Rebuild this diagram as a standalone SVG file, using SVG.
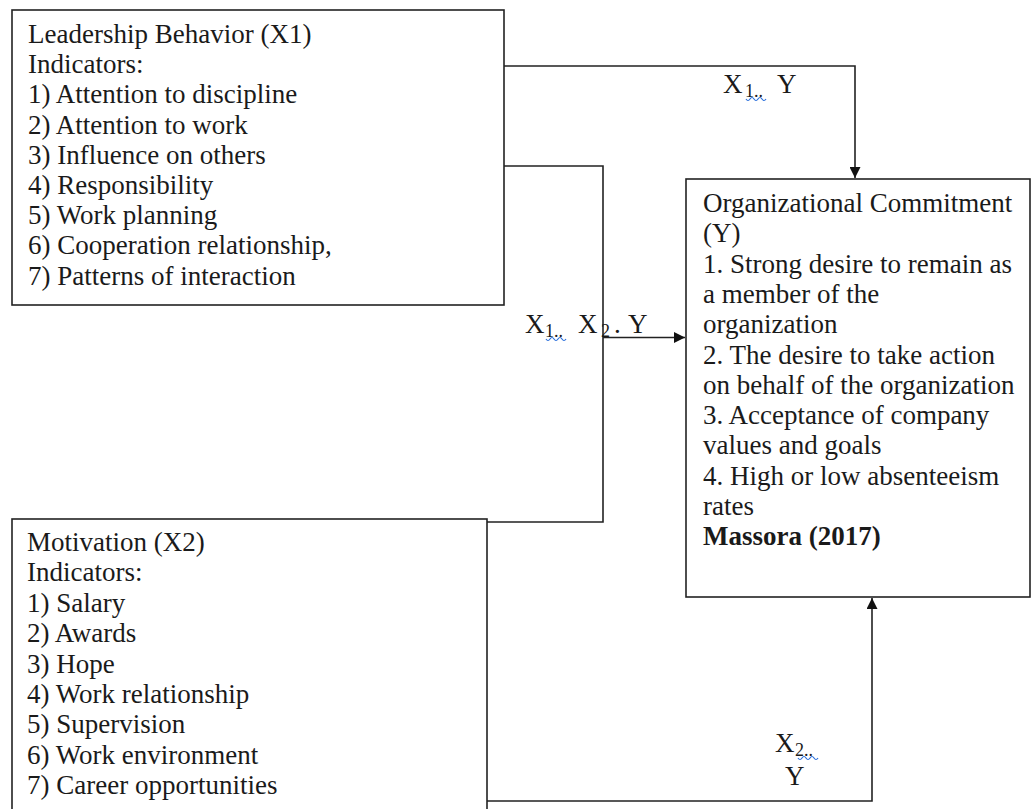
<svg xmlns="http://www.w3.org/2000/svg" width="1033" height="809" viewBox="0 0 1033 809">
<style>
.box{fill:#fff;stroke:#222;stroke-width:1.6}
.t{font-family:"Liberation Serif","Times New Roman",serif;font-size:27px;fill:#1a1a1a}
.sub{font-size:18px}
.b{font-weight:bold}
.ln{fill:none;stroke:#222;stroke-width:1.6}
.sq{fill:none;stroke:#2a6fdc;stroke-width:1.2}
</style>
<defs>
<marker id="ah" viewBox="0 0 10 10" refX="10" refY="5" markerWidth="12" markerHeight="11" markerUnits="userSpaceOnUse" orient="auto">
<path d="M0,0 L10,5 L0,10 z" fill="#111"/>
</marker>
</defs>
<rect width="1033" height="809" fill="#fff"/>
<g id="connectors">
<polyline class="ln" points="504,66 855,66 855,178" marker-end="url(#ah)"/>
<polyline class="ln" points="504,166 603,166 603,522 487,522"/>
<line class="ln" x1="603" y1="337.5" x2="685" y2="337.5" marker-end="url(#ah)"/>
<polyline class="ln" points="487,801 872,801 872,598" marker-end="url(#ah)"/>
</g>
<g id="node-x1">
<rect class="box" x="12" y="10" width="492" height="295"/>
<text class="t" x="28" y="43">Leadership Behavior (X1)</text>
<text class="t" x="28" y="73.2">Indicators:</text>
<text class="t" x="28" y="103.4">1) Attention to discipline</text>
<text class="t" x="28" y="133.6">2) Attention to work</text>
<text class="t" x="28" y="163.8">3) Influence on others</text>
<text class="t" x="28" y="194">4) Responsibility</text>
<text class="t" x="28" y="224.2">5) Work planning</text>
<text class="t" x="28" y="254.4">6) Cooperation relationship,</text>
<text class="t" x="28" y="284.6">7) Patterns of interaction</text>
</g>
<g id="node-x2">
<rect class="box" x="12" y="519" width="475" height="300"/>
<text class="t" x="27" y="551">Motivation (X2)</text>
<text class="t" x="27" y="581.4">Indicators:</text>
<text class="t" x="27" y="611.8">1) Salary</text>
<text class="t" x="27" y="642.2">2) Awards</text>
<text class="t" x="27" y="672.6">3) Hope</text>
<text class="t" x="27" y="703">4) Work relationship</text>
<text class="t" x="27" y="733.4">5) Supervision</text>
<text class="t" x="27" y="763.8">6) Work environment</text>
<text class="t" x="27" y="794.2">7) Career opportunities</text>
</g>
<g id="node-y">
<rect class="box" x="686" y="179" width="344" height="418"/>
<text class="t" x="703" y="212">Organizational Commitment</text>
<text class="t" x="703" y="242.3">(Y)</text>
<text class="t" x="703" y="272.6">1. Strong desire to remain as</text>
<text class="t" x="703" y="302.9">a member of the</text>
<text class="t" x="703" y="333.2">organization</text>
<text class="t" x="703" y="363.5">2. The desire to take action</text>
<text class="t" x="703" y="393.8">on behalf of the organization</text>
<text class="t" x="703" y="424.1">3. Acceptance of company</text>
<text class="t" x="703" y="454.4">values and goals</text>
<text class="t" x="703" y="484.7">4. High or low absenteeism</text>
<text class="t" x="703" y="515">rates</text>
<text class="t b" x="703" y="545.3">Massora (2017)</text>
</g>
<g id="labels">
<text class="t" x="723" y="93">X<tspan class="sub" x="745" y="97">1..</tspan><tspan x="777" y="93">Y</tspan></text>
<path class="sq" d="M746,99 q2,3 4,0 t4,0 t4,0 t4,0 t4,0"/>
<text class="t" x="525" y="333">X<tspan class="sub" x="545" y="337">1..</tspan><tspan x="578" y="333">X</tspan><tspan class="sub" x="601" y="337">2</tspan><tspan x="614" y="333">.</tspan><tspan x="628" y="333">Y</tspan></text>
<path class="sq" d="M546,339 q2,3 4,0 t4,0 t4,0 t4,0 t4,0"/>
<text class="t" x="775" y="752">X<tspan class="sub" x="795" y="756">2..</tspan></text>
<path class="sq" d="M798,758 q2,3 4,0 t4,0 t4,0 t4,0 t4,0"/>
<text class="t" x="785" y="785">Y</text>
</g>
</svg>
